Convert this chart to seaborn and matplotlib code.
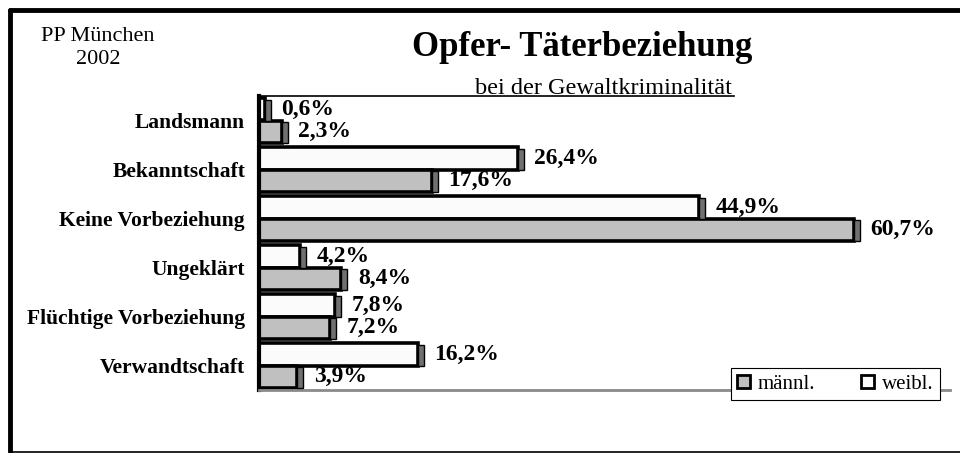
import numpy as np
import pandas as pd
import matplotlib
matplotlib.use("Agg")
import matplotlib.pyplot as plt
from matplotlib.lines import Line2D
from matplotlib.patches import Rectangle, Patch
import seaborn as sns

# ---------------------------------------------------------------------------
# Data
# ---------------------------------------------------------------------------
categories = ["Landsmann", "Bekanntschaft", "Keine Vorbeziehung",
              "Ungeklärt", "Flüchtige Vorbeziehung", "Verwandtschaft"]
weibl = [0.6, 26.4, 44.9, 4.2, 7.8, 16.2]
maennl = [2.3, 17.6, 60.7, 8.4, 7.2, 3.9]
series = ["weibl.", "männl."]
legend_order = ["männl.", "weibl."]

df = pd.DataFrame({
    "Beziehung": categories * 2,
    "Anteil": weibl + maennl,
    "Geschlecht": ["weibl."] * len(categories) + ["männl."] * len(categories),
})

colors = {"weibl.": "#fbfbfb", "männl.": "#c0c0c0"}
side_color = "#707070"

sns.set_theme(style="white")
plt.rcParams["font.family"] = ["Liberation Serif", "DejaVu Serif"]
plt.rcParams["text.color"] = "black"
plt.rcParams["ytick.labelcolor"] = "black"

fig = plt.figure(figsize=(9.6, 4.53), dpi=100)
ax = fig.add_axes([259 / 960, 1 - 390 / 453, 691 / 960, 294 / 453])

sns.barplot(data=df, y="Beziehung", x="Anteil", hue="Geschlecht",
            hue_order=series, order=categories, palette=colors,
            orient="h", width=0.9, edgecolor="black", linewidth=2.6,
            legend=False, ax=ax)

ax.set_xlim(0, 70.5)
ax.set_ylim(len(categories) - 0.5, -0.5)

# 3D side strip on each bar + value labels
px = 70.5 / 691
for container, vals in zip(ax.containers, [weibl, maennl]):
    for bar, v in zip(container, vals):
        y0 = bar.get_y()
        h = bar.get_height()
        side = Rectangle((bar.get_x() + bar.get_width(), y0 + h * 0.08),
                         6 * px, h * 0.92, facecolor=side_color,
                         edgecolor="black", linewidth=1.0, zorder=3)
        ax.add_patch(side)
        ax.annotate(f"{v:.1f}%".replace(".", ","),
                    xy=(bar.get_x() + bar.get_width(), y0 + h / 2),
                    xytext=(12, 0), textcoords="offset points",
                    ha="left", va="center", fontsize=17,
                    fontweight="bold", color="black")

# axes styling
ax.set_xlabel("")
ax.set_ylabel("")
ax.set_xticks([])
ax.tick_params(axis="y", which="major", length=0, pad=10,
               labelsize=15.5, labelcolor="black")
for lab in ax.get_yticklabels():
    lab.set_fontweight("bold")
ax.set_yticks(np.arange(len(categories) + 1) - 0.5, minor=True)
ax.tick_params(axis="y", which="minor", length=5, width=1.2,
               direction="out", color="black")

ax.spines["right"].set_visible(False)
ax.spines["left"].set_linewidth(3)
ax.spines["left"].set_color("black")
ax.spines["top"].set_linewidth(1.2)
ax.spines["top"].set_color("black")
ax.spines["top"].set_bounds(0, 48.5)
ax.spines["bottom"].set_linewidth(2)
ax.spines["bottom"].set_color("#8a8a8a")

# legend
handles = [Patch(facecolor=colors[s], edgecolor="black", linewidth=2)
           for s in legend_order]
leg = ax.legend(handles, legend_order, loc="lower right", ncol=2,
                bbox_to_anchor=(0.9855, -0.034), frameon=True, fancybox=False,
                fontsize=15, handlelength=0.6, handleheight=0.6,
                handletextpad=0.4, columnspacing=2.2, borderpad=0.3,
                borderaxespad=0, edgecolor="black", framealpha=1)
leg.get_frame().set_linewidth(0.8)
for t in leg.get_texts():
    t.set_color("black")

# titles
fig.text(0.102, 0.94, "PP München\n2002", ha="center", va="top",
         fontsize=16, linespacing=1.3)
fig.text(0.606, 0.895, "Opfer- Täterbeziehung", ha="center", va="center",
         fontsize=25, fontweight="bold")
fig.text(0.629, 0.793, "bei der Gewaltkriminalität", ha="center",
         va="baseline", fontsize=17.5)

# outer frame
fig.add_artist(Line2D([0.0105, 1.0], [0.979, 0.979], color="black",
                      linewidth=3.5, transform=fig.transFigure))
fig.add_artist(Line2D([0.0105, 0.0105], [0.979, 0.0], color="black",
                      linewidth=3.5, transform=fig.transFigure))
fig.add_artist(Line2D([0.0105, 1.0], [0.003, 0.003], color="black",
                      linewidth=1.2, transform=fig.transFigure))

fig.savefig("out.png", dpi=100)
